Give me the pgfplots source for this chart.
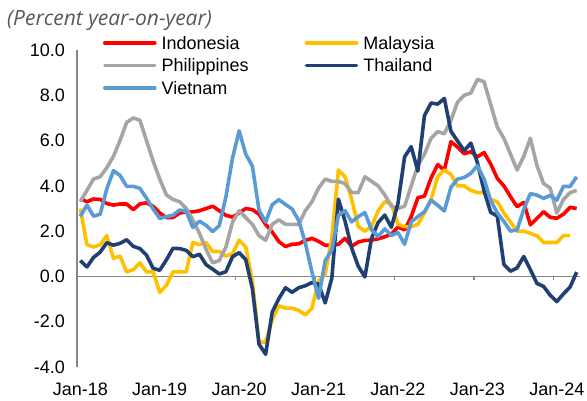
\documentclass[border=0pt]{standalone}
\usepackage{pgfplots}
\usepackage{pgfplotstable}
\pgfplotsset{compat=1.18}
\usepackage{fontspec}
\setmainfont{Liberation Sans}
\newfontfamily\titlefont{Open Sans}
\definecolor{cIDN}{HTML}{FF0000}
\definecolor{cMYS}{HTML}{FFC000}
\definecolor{cPHL}{HTML}{A5A5A5}
\definecolor{cTHA}{HTML}{203F73}
\definecolor{cVNM}{HTML}{5B9BD5}
\definecolor{axgray}{HTML}{868686}
\definecolor{titlegray}{HTML}{595959}

% m = month position (Jan-18 centred at 0.5)
\pgfplotstableread{
m IDN MYS PHL THA VNM
0.5 3.44 3.00 3.30 0.70 2.65
1.5 3.30 1.40 3.80 0.42 3.15
2.5 3.42 1.30 4.30 0.84 2.66
3.5 3.40 1.40 4.40 1.07 2.75
4.5 3.22 1.80 4.80 1.49 3.86
5.5 3.15 0.80 5.30 1.38 4.67
6.5 3.20 0.90 6.00 1.46 4.46
7.5 3.20 0.20 6.80 1.62 3.98
8.5 2.95 0.30 7.00 1.33 3.98
9.5 3.20 0.60 6.90 1.23 3.89
10.5 3.25 0.20 6.00 0.94 3.46
11.5 3.10 0.20 5.10 0.36 2.98
12.5 2.80 -0.70 4.30 0.27 2.56
13.5 2.60 -0.40 3.60 0.73 2.64
14.5 2.60 0.20 3.40 1.24 2.70
15.5 2.80 0.20 3.30 1.23 2.93
16.5 2.85 0.20 3.00 1.15 2.88
17.5 2.85 1.50 2.50 0.87 2.16
18.5 2.90 1.40 1.90 0.98 2.44
19.5 3.00 1.50 1.20 0.52 2.26
20.5 3.10 1.10 0.60 0.32 1.98
21.5 2.90 1.10 0.70 0.11 2.24
22.5 2.70 0.90 1.30 0.21 3.52
23.5 2.62 1.00 2.40 0.87 5.23
24.5 2.80 1.60 2.90 1.05 6.43
25.5 3.00 1.30 2.60 0.74 5.40
26.5 2.95 -0.20 2.30 -0.54 4.87
27.5 2.75 -2.90 1.80 -2.99 2.93
28.5 2.30 -2.90 1.60 -3.44 2.40
29.5 1.96 -1.90 2.30 -1.57 3.17
30.5 1.54 -1.30 2.50 -0.98 3.39
31.5 1.32 -1.40 2.30 -0.50 3.18
32.5 1.42 -1.40 2.30 -0.70 2.98
33.5 1.44 -1.50 2.30 -0.50 2.47
34.5 1.59 -1.70 2.90 -0.41 1.48
35.5 1.68 -1.40 3.30 -0.27 0.19
36.5 1.55 -0.20 3.90 -0.34 -0.97
37.5 1.38 0.10 4.30 -1.17 0.70
38.5 1.37 1.70 4.20 -0.08 1.16
39.5 1.42 4.70 4.20 3.41 2.70
40.5 1.68 4.40 4.10 2.44 2.90
41.5 1.33 3.40 3.70 1.25 2.41
42.5 1.52 2.20 3.70 0.45 2.64
43.5 1.59 2.00 4.40 -0.02 2.82
44.5 1.60 2.20 4.20 1.68 2.06
45.5 1.66 2.90 4.00 2.38 1.77
46.5 1.75 3.30 3.60 2.71 2.10
47.5 1.87 3.20 3.10 2.17 1.81
48.5 2.18 2.30 3.00 3.23 1.94
49.5 2.06 2.20 3.10 5.28 1.42
50.5 2.64 2.20 4.00 5.73 2.41
51.5 3.47 2.30 4.90 4.65 2.64
52.5 3.55 2.80 5.40 7.10 2.86
53.5 4.35 3.40 6.10 7.66 3.37
54.5 4.94 4.40 6.40 7.61 3.14
55.5 4.69 4.70 6.30 7.86 2.89
56.5 5.95 4.50 6.90 6.41 3.94
57.5 5.71 4.00 7.70 5.98 4.30
58.5 5.42 4.00 8.00 5.55 4.37
59.5 5.51 3.80 8.10 5.89 4.55
60.5 5.28 3.70 8.70 5.02 4.89
61.5 5.47 3.70 8.60 3.79 4.31
62.5 4.97 3.40 7.60 2.83 3.35
63.5 4.33 3.30 6.60 2.67 2.81
64.5 4.00 2.80 6.10 0.53 2.43
65.5 3.52 2.40 5.40 0.23 2.00
66.5 3.08 2.00 4.70 0.38 2.06
67.5 3.27 2.00 5.30 0.88 2.96
68.5 2.28 1.90 6.10 0.30 3.66
69.5 2.56 1.80 4.90 -0.31 3.59
70.5 2.86 1.50 4.10 -0.44 3.45
71.5 2.61 1.50 3.90 -0.83 3.58
72.5 2.57 1.50 2.80 -1.11 3.37
73.5 2.75 1.80 3.40 -0.77 3.98
74.5 3.05 1.80 3.70 -0.47 3.97
75.5 3.00 nan 3.80 0.19 4.40
}\datatable

\begin{document}
\begin{tikzpicture}
\begin{axis}[
  scale only axis, width=503pt, height=317pt,
  xmin=0, xmax=76, ymin=-4, ymax=10,
  axis x line*=middle, axis y line*=left,
  axis line style={draw=axgray, line width=1.3pt},
  hide obscured x ticks=false,
  xtick={0,12,24,36,48,60,72},
  xticklabels={Jan-18,Jan-19,Jan-20,Jan-21,Jan-22,Jan-23,Jan-24},
  xtick align=outside, major tick length=4pt,
  xtick style={draw=axgray, line width=1.3pt},
  ytick={-4,-2,0,2,4,6,8,10},
  ytick style={draw=none},
  /pgf/number format/assume math mode=true,
  tick label style={font=\fontsize{18}{18}\selectfont, text=black},
  yticklabel style={/pgf/number format/fixed, /pgf/number format/fixed zerofill, /pgf/number format/precision=1, inner sep=0pt, anchor=east, xshift=-12pt},
  xticklabel style={inner sep=0pt, anchor=north, yshift=-102pt, xshift=3.3pt},
  legend columns=2,
  legend style={draw=none, fill=none, inner sep=0pt, outer sep=0pt,
    at={(0.0517,1.0426)}, anchor=north west,
    font=\fontsize{18}{18}\selectfont,
    nodes={inner sep=0pt, text height=12.9pt, text depth=0pt},
    row sep=9.6pt,
    /tikz/every odd column/.append style={column sep=5pt},
    /tikz/every even column/.append style={column sep=56pt}},
  legend cell align=left,
  legend image code/.code={\draw[#1, line cap=round] (2pt,0pt) -- (52pt,0pt);},
  every axis plot/.append style={line width=3.6pt, line join=round},
]
\addplot[cIDN] table[x=m, y=IDN] {\datatable};
\addlegendentry{Indonesia}
\addplot[cMYS] table[x=m, y=MYS] {\datatable};
\addlegendentry{Malaysia}
\addplot[cPHL] table[x=m, y=PHL] {\datatable};
\addlegendentry{Philippines}
\addplot[cTHA] table[x=m, y=THA] {\datatable};
\addlegendentry{Thailand}
\addplot[cVNM] table[x=m, y=VNM] {\datatable};
\addlegendentry{Vietnam}
\coordinate (o) at (rel axis cs:0,0);
\end{axis}
\node[anchor=base west, inner sep=0pt, text=titlegray, font=\titlefont\itshape\fontsize{21}{21}\selectfont] at ([xshift=-70pt, yshift=341pt]o) {(Percent year-on-year)};
\pgfresetboundingbox
\path[use as bounding box] (o) ++(-77pt,-34pt) rectangle ++(587pt,401pt);
\end{tikzpicture}
\end{document}
